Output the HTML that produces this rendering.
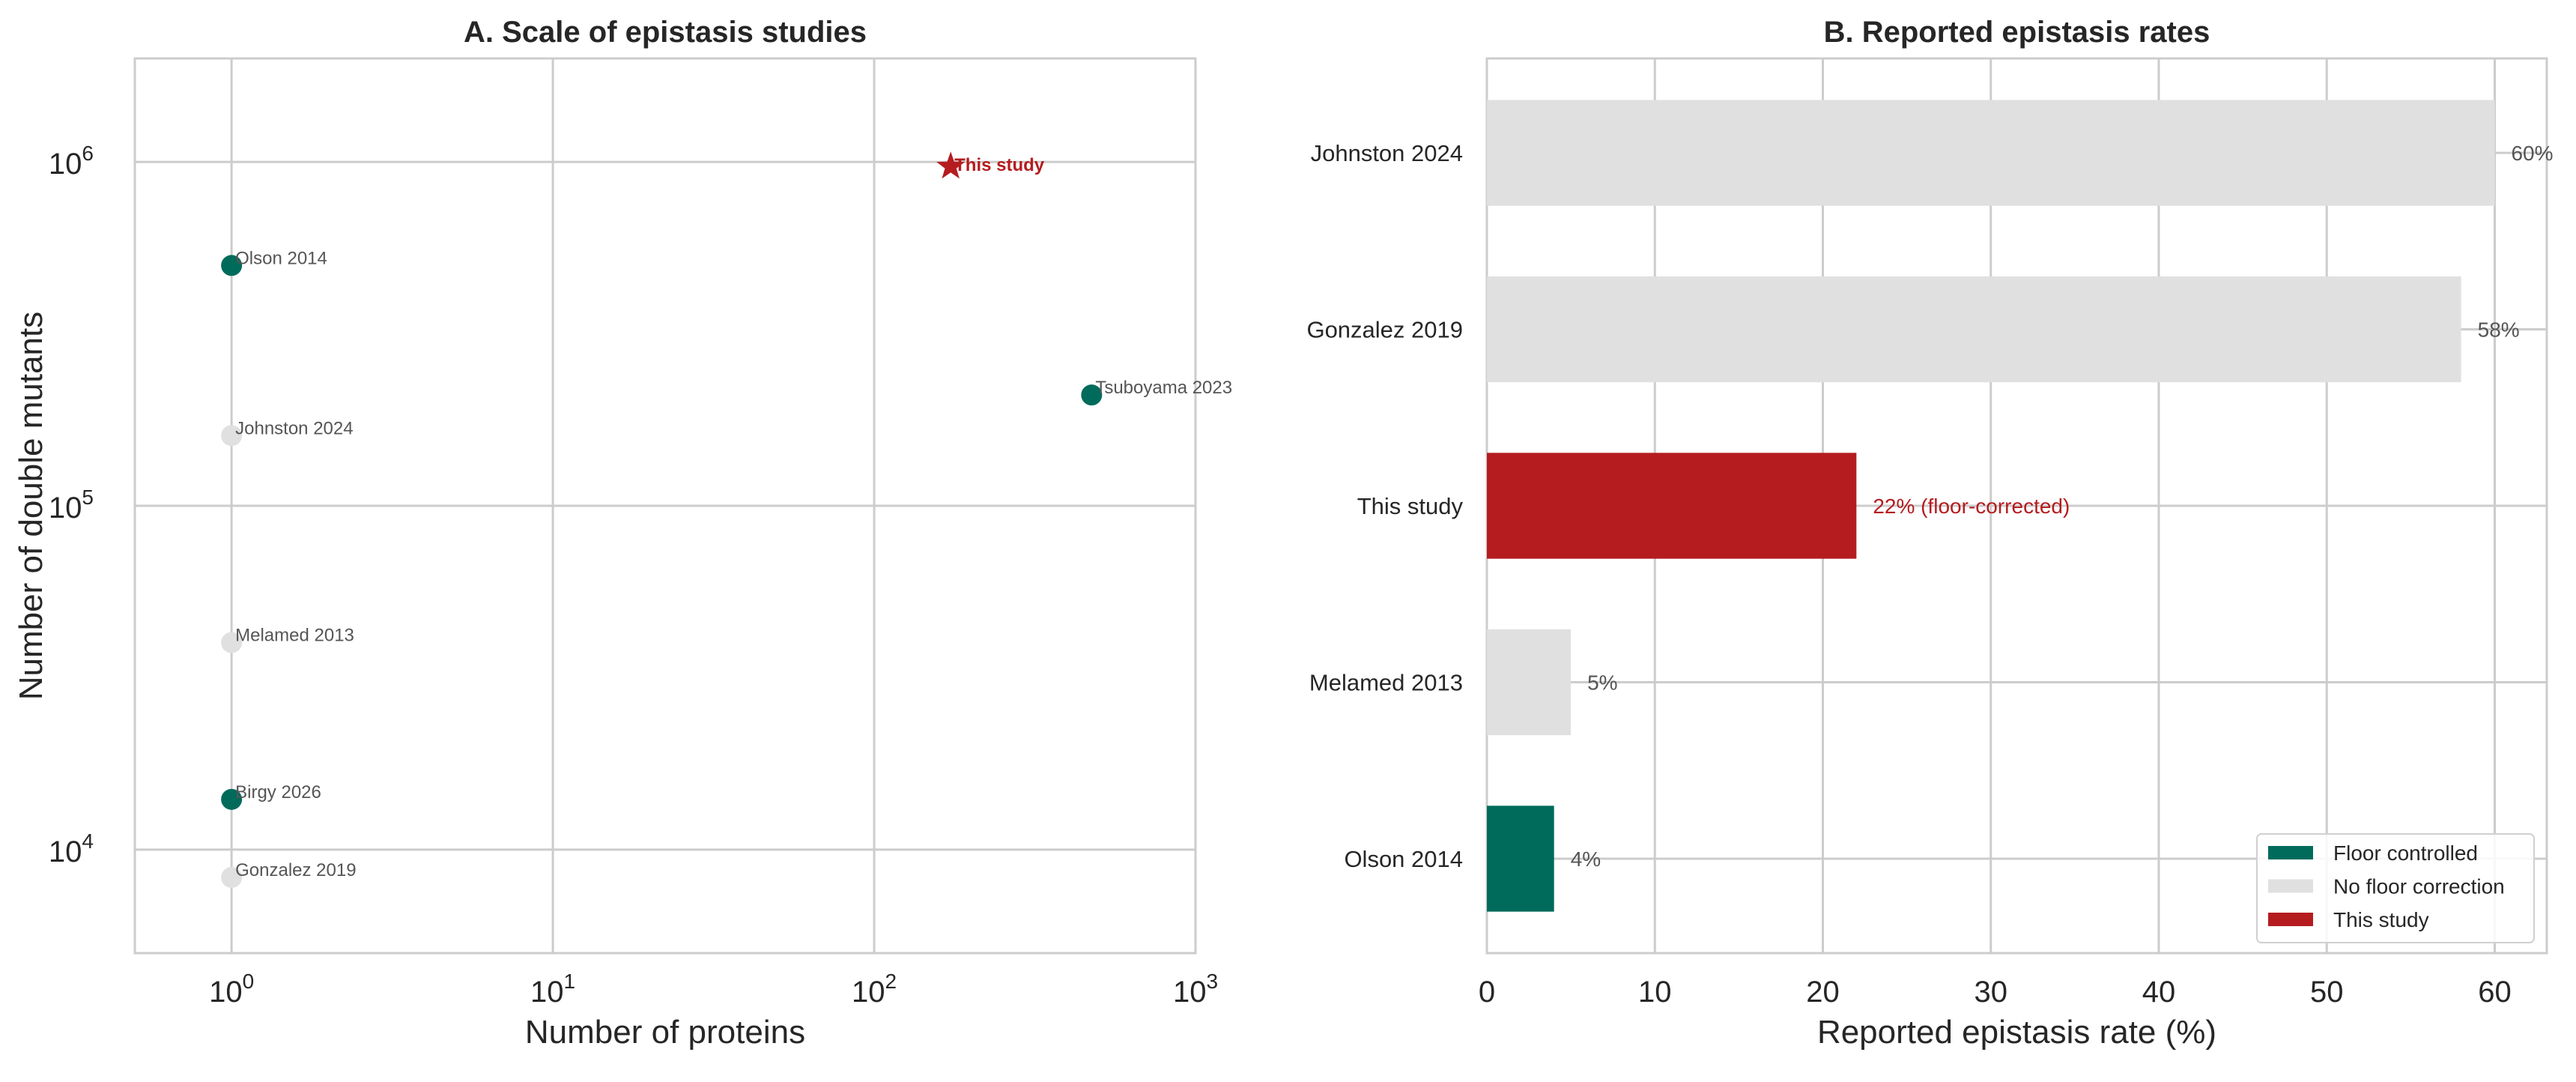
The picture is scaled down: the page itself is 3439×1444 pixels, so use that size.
<!DOCTYPE html>
<html><head><meta charset="utf-8">
<style>
html,body{margin:0;padding:0;background:#fff;}
svg{display:block;font-family:"Liberation Sans",Arial,sans-serif;}
</style></head>
<body>
<svg id="fig" width="3439" height="1444" viewBox="0 0 3439 1444" xmlns="http://www.w3.org/2000/svg">
<g id="panelA"></g>
<g id="panelB"></g>
</svg>
<script>
// Panel A data
const studyNames = ["Olson 2014","Johnston 2024","Melamed 2013","Birgy 2026","Gonzalez 2019","Tsuboyama 2023","This study"];
const numProteins = [1,1,1,1,1,475,173];
const numDoubles = [500000,160000,40000,14000,8300,210000,970000];
const studyGroup = ["floor","none","none","floor","none","floor","this"];
const xTickExps = [0,1,2,3];
const yTickExps = [4,5,6];
// Panel B data
const barStudies = ["Johnston 2024","Gonzalez 2019","This study","Melamed 2013","Olson 2014"];
const barRates = [60,58,22,5,4];
const barGroup = ["none","none","this","none","floor"];
const barLabels = ["60%","58%","22% (floor-corrected)","5%","4%"];
const xTicksB = [0,10,20,30,40,50,60];
const legendLabels = ["Floor controlled","No floor correction","This study"];
const legendGroups = ["floor","none","this"];

const colors = {floor:"#006b5b", none:"#e0e0e0", this:"#b51c1f"};
const NS = "http://www.w3.org/2000/svg";
function mk(parent, tag, attrs, text){
  const e = document.createElementNS(NS, tag);
  for (const k in attrs) e.setAttribute(k, attrs[k]);
  if (text !== undefined) e.textContent = text;
  parent.appendChild(e);
  return e;
}
// ---------- Panel A ----------
const A = document.getElementById('panelA');
const aL=180, aR=1596, aT=78, aB=1272;
const xmin=Math.log10(0.5), xmax=3, ymin=Math.log10(5000), ymax=Math.log10(2e6);
const ax = v => aL + (Math.log10(v)-xmin)/(xmax-xmin)*(aR-aL);
const ay = v => aB - (Math.log10(v)-ymin)/(ymax-ymin)*(aB-aT);
let t = mk(A,'text',{x:(aL+aR)/2,y:56,'text-anchor':'middle','font-size':40,'font-weight':'bold',fill:'#262626'},'A. Scale of epistasis studies');
 
xTickExps.forEach(e=>{
  const x = ax(Math.pow(10,e));
  const l = mk(A,'line',{x1:x,x2:x,y1:aT,y2:aB,stroke:'#cccccc','stroke-width':3});
   
  const g = mk(A,'text',{x:x,y:1337,'text-anchor':'middle','font-size':40,fill:'#262626'});
   
  g.appendChild(document.createTextNode('10'));
  mk(g,'tspan',{dy:-18,'font-size':28},String(e));
});
yTickExps.forEach(e=>{
  const y = ay(Math.pow(10,e));
  const l = mk(A,'line',{x1:aL,x2:aR,y1:y,y2:y,stroke:'#cccccc','stroke-width':3});
   
  const g = mk(A,'text',{x:125,y:y+16,'text-anchor':'end','font-size':40,fill:'#262626'});
   
  g.appendChild(document.createTextNode('10'));
  mk(g,'tspan',{dy:-18,'font-size':28},String(e));
});
let r = mk(A,'rect',{x:aL,y:aT,width:aR-aL,height:aB-aT,fill:'none',stroke:'#cccccc','stroke-width':3});
 
studyNames.forEach((n,i)=>{
  const x=ax(numProteins[i]), y=ay(numDoubles[i]);
  if (studyGroup[i]==='this'){
    const pts=[]; for(let k=0;k<10;k++){const rad=k%2?8:20; const a=-Math.PI/2+k*Math.PI/5; pts.push((x+rad*Math.cos(a)).toFixed(1)+','+(y+rad*Math.sin(a)).toFixed(1));}
    const s=mk(A,'polygon',{points:pts.join(' '),fill:colors.this});
     
    const lt=mk(A,'text',{x:x+5,y:y+6,'font-size':24,'font-weight':'bold',fill:colors.this},n);
     
  } else {
    const c=mk(A,'circle',{cx:x,cy:y,r:14,fill:colors[studyGroup[i]]});
     
    const lt=mk(A,'text',{x:x+5,y:y-2,'font-size':24,fill:'#555555'},n);
     
  }
});
t=mk(A,'text',{x:(aL+aR)/2,y:1392,'text-anchor':'middle','font-size':44,fill:'#262626'},'Number of proteins');
 
t=mk(A,'text',{x:0,y:0,'text-anchor':'middle','font-size':44,fill:'#262626',transform:'translate(56,'+((aT+aB)/2)+') rotate(-90)'},'Number of double mutants');
 

// ---------- Panel B ----------
const B = document.getElementById('panelB');
const bL=1985, bR=3400, bT=78, bB=1272, bxmax=63.1;
const bx = v => bL + v/bxmax*(bR-bL);
const step=235.5;
const by = i => 204 + step*i;
const bh = step*0.6;
t=mk(B,'text',{x:(bL+bR)/2,y:56,'text-anchor':'middle','font-size':40,'font-weight':'bold',fill:'#262626'},'B. Reported epistasis rates');
 
xTicksB.forEach(v=>{
  const x=bx(v);
  const l=mk(B,'line',{x1:x,x2:x,y1:bT,y2:bB,stroke:'#cccccc','stroke-width':3});
   
  const g=mk(B,'text',{x:x,y:1337,'text-anchor':'middle','font-size':40,fill:'#262626'},String(v));
   
});
barStudies.forEach((n,i)=>{
  const y=by(i);
  const l=mk(B,'line',{x1:bL,x2:bR,y1:y,y2:y,stroke:'#cccccc','stroke-width':3});
   
  const g=mk(B,'text',{x:1953,y:y+11,'text-anchor':'end','font-size':31,fill:'#262626'},n);
   
});
r=mk(B,'rect',{x:bL,y:bT,width:bR-bL,height:bB-bT,fill:'none',stroke:'#cccccc','stroke-width':3});
 
barStudies.forEach((n,i)=>{
  const y=by(i);
  const rc=mk(B,'rect',{x:bL,y:y-bh/2,width:bx(barRates[i])-bL,height:bh,fill:colors[barGroup[i]]});
   
  const lt=mk(B,'text',{x:bx(barRates[i])+22,y:y+10,'font-size':28,fill:barGroup[i]==='this'?colors.this:'#555555'},barLabels[i]);
   
});
t=mk(B,'text',{x:(bL+bR)/2,y:1392,'text-anchor':'middle','font-size':44,fill:'#262626'},'Reported epistasis rate (%)');
 
// legend
const lg=mk(B,'g',{});
 
mk(lg,'rect',{x:3013,y:1113,width:370,height:145,rx:6,fill:'#ffffff','fill-opacity':0.85,stroke:'#d0d0d0','stroke-width':2});
legendLabels.forEach((s,i)=>{
  const y=1138+i*44.5;
  const e=mk(lg,'g',{});
   
  mk(e,'rect',{x:3028,y:y-9,width:60,height:18,fill:colors[legendGroups[i]]});
  mk(e,'text',{x:3115,y:y+10,'font-size':28,fill:'#262626'},s);
});
</script>
</body></html>
